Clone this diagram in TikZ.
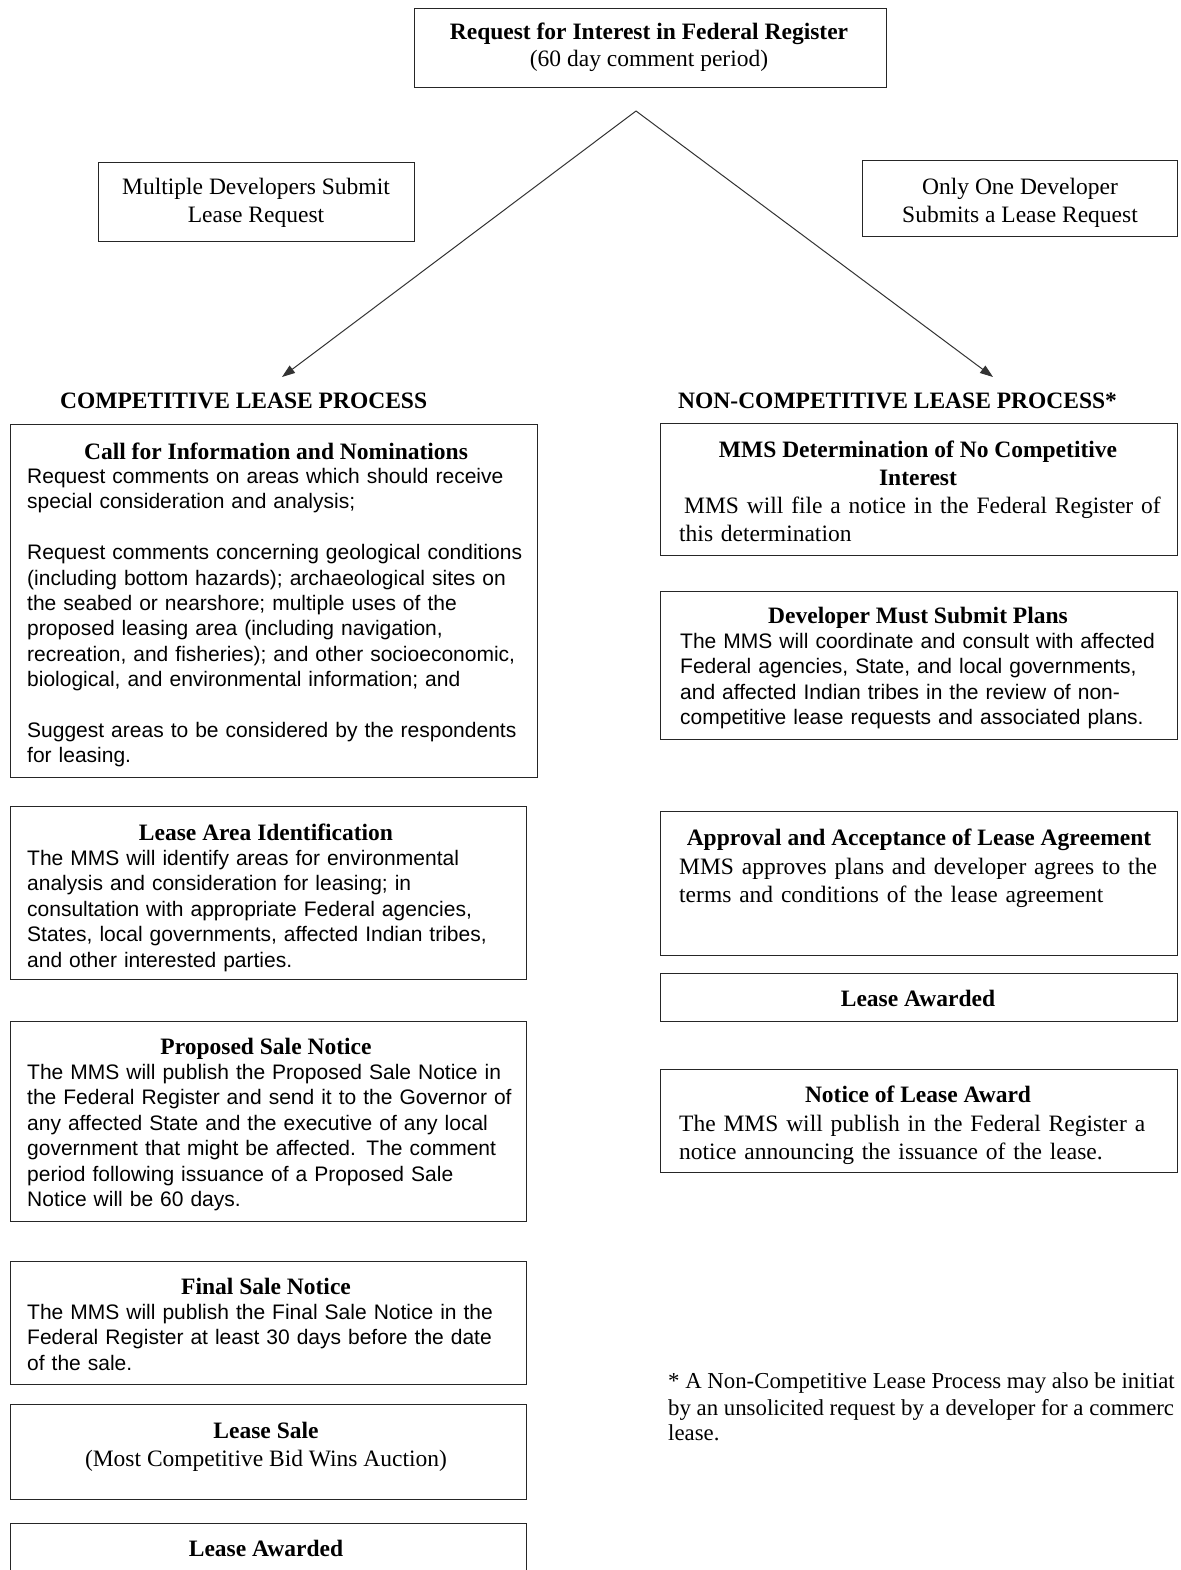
\documentclass[tikz,border=0pt]{standalone}
\usepackage{fontspec}
\setmainfont{Liberation Serif}
\setsansfont{Liberation Sans}
\usetikzlibrary{arrows.meta}
\newcommand\fSerif{\fontsize{23.5}{28}\selectfont\rmfamily}
\newcommand\fSerifB{\fontsize{23.5}{28}\selectfont\rmfamily\bfseries}
\newcommand\fSans{\fontsize{21}{25.4}\selectfont\sffamily}
\newcommand\fFoot{\fontsize{22.8}{26.6}\selectfont\rmfamily}
\begin{document}
\begin{tikzpicture}[x=1pt,y=-1pt,
  box/.style={draw=black!85, line width=1.3pt, rectangle, inner sep=0pt, anchor=north west, fill=none},
  ttl/.style={font=\fSerifB, anchor=base, inner sep=0pt},
  stxt/.style={font=\fSerif, anchor=base, inner sep=0pt},
  sbody/.style={font=\fSans, anchor=base west, inner sep=0pt, align=left, text width=#1},
  rbody/.style={font=\fSerif, anchor=base west, inner sep=0pt, align=left, text width=#1},
  head/.style={font=\fSerifB, anchor=base west, inner sep=0pt},
  foottxt/.style={font=\fFoot, anchor=base west, inner sep=0pt},
  conn/.style={draw=black!80, line width=1pt, -{Triangle[length=13pt,width=9pt]}}
]
\useasboundingbox (0,0) rectangle (1180,1570);
\fill[white] (0,0) rectangle (1180,1570);

% boxes
\node[box, minimum width=472pt, minimum height=79pt] (top) at (414,8) {};
\node[box, minimum width=316pt, minimum height=79pt] (multi) at (98,162) {};
\node[box, minimum width=315pt, minimum height=76pt] (one) at (862,160) {};

\node[box, minimum width=527pt, minimum height=353pt] (cfi) at (10,424) {};
\node[box, minimum width=516pt, minimum height=173pt] (lai) at (10,806) {};
\node[box, minimum width=516pt, minimum height=200pt] (psn) at (10,1021) {};
\node[box, minimum width=516pt, minimum height=123pt] (fsn) at (10,1261) {};
\node[box, minimum width=516pt, minimum height=95pt] (ls) at (10,1404) {};
\node[box, minimum width=516pt, minimum height=80pt] (law) at (10,1523) {};

\node[box, minimum width=517pt, minimum height=132pt] (mms) at (660,423) {};
\node[box, minimum width=517pt, minimum height=148pt] (dev) at (660,591) {};
\node[box, minimum width=517pt, minimum height=144pt] (app) at (660,811) {};
\node[box, minimum width=517pt, minimum height=48pt] (raw) at (660,973) {};
\node[box, minimum width=517pt, minimum height=103pt] (nla) at (660,1069) {};

% connectors
\coordinate (split) at (636,111);
\coordinate (lend) at (282,377);
\coordinate (rend) at (993,377);
\draw[conn] (split) -- (lend);
\draw[conn] (split) -- (rend);

\begin{scope}[yshift=-2.5pt]
\node[ttl] (toptitle) at (649,37) {Request for Interest in Federal Register};
\node[stxt] (topsub) at (649,64) {(60 day comment period)};

\node[stxt] (multi1) at (256,192) {Multiple Developers Submit};
\node[stxt] (multi2) at (256,220) {Lease Request};

\node[stxt] (one1) at (1020,192) {Only One Developer};
\node[stxt] (one2) at (1020,220) {Submits a Lease Request};

\node[head] (hleft) at (60,406) {COMPETITIVE LEASE PROCESS};
\node[head] (hright) at (678,406) {NON-COMPETITIVE LEASE PROCESS*};

% left column
\node[ttl] (cfit) at (276,457) {Call for Information and Nominations};
\node[sbody=510pt] (cfib) at (27,481) {Request comments on areas which should receive\\
special consideration and analysis;\\[25.4pt]
Request comments concerning geological conditions\\
(including bottom hazards); archaeological sites on\\
the seabed or nearshore; multiple uses of the\\
proposed leasing area (including navigation,\\
recreation, and fisheries); and other socioeconomic,\\
biological, and environmental information; and\\[25.4pt]
Suggest areas to be considered by the respondents\\
for leasing.};

\node[ttl] (lait) at (266,838) {Lease Area Identification};
\node[sbody=500pt] (laib) at (27,863) {The MMS will identify areas for environmental\\
analysis and consideration for leasing; in\\
consultation with appropriate Federal agencies,\\
States, local governments, affected Indian tribes,\\
and other interested parties.};

\node[ttl] (psnt) at (266,1052) {Proposed Sale Notice};
\node[sbody=500pt] (psnb) at (27,1077) {The MMS will publish the Proposed Sale Notice in\\
the Federal Register and send it to the Governor of\\
any affected State and the executive of any local\\
government that might be affected. The comment\\
period following issuance of a Proposed Sale\\
Notice will be 60 days.};

\node[ttl] (fsnt) at (266,1292) {Final Sale Notice};
\node[sbody=500pt] (fsnb) at (27,1317) {The MMS will publish the Final Sale Notice in the\\
Federal Register at least 30 days before the date\\
of the sale.};

\node[ttl] (lst) at (266,1436) {Lease Sale};
\node[stxt] (lss) at (266,1464) {(Most Competitive Bid Wins Auction)};

\node[ttl] (lawt) at (266,1554) {Lease Awarded};

% right column
\node[ttl] (mmst1) at (918,455) {MMS Determination of No Competitive};
\node[ttl] (mmst2) at (918,483) {Interest};
\node[rbody=500pt] (mmsb) at (679,511) {\hspace*{5pt}MMS will file a notice in the Federal Register of\\
this determination};

\node[ttl] (devt) at (918,621) {Developer Must Submit Plans};
\node[sbody=500pt] (devb) at (680,646) {The MMS will coordinate and consult with affected\\
Federal agencies, State, and local governments,\\
and affected Indian tribes in the review of non-\\
competitive lease requests and associated plans.};

\node[ttl] (appt) at (919,843) {Approval and Acceptance of Lease Agreement};
\node[rbody=500pt] (appb) at (679,872) {MMS approves plans and developer agrees to the\\
terms and conditions of the lease agreement};

\node[ttl] (rawt) at (918,1004) {Lease Awarded};

\node[ttl] (nlat) at (918,1100) {Notice of Lease Award};
\node[rbody=500pt] (nlab) at (679,1129) {The MMS will publish in the Federal Register a\\
notice announcing the issuance of the lease.};

\node[foottxt] (foot1) at (668,1386) {* A Non-Competitive Lease Process may also be initiat};
\node[foottxt] (foot2) at (668,1412.5) {by an unsolicited request by a developer for a commerc};
\node[foottxt] (foot3) at (668,1438) {lease.};
\end{scope}
\end{tikzpicture}
\end{document}
